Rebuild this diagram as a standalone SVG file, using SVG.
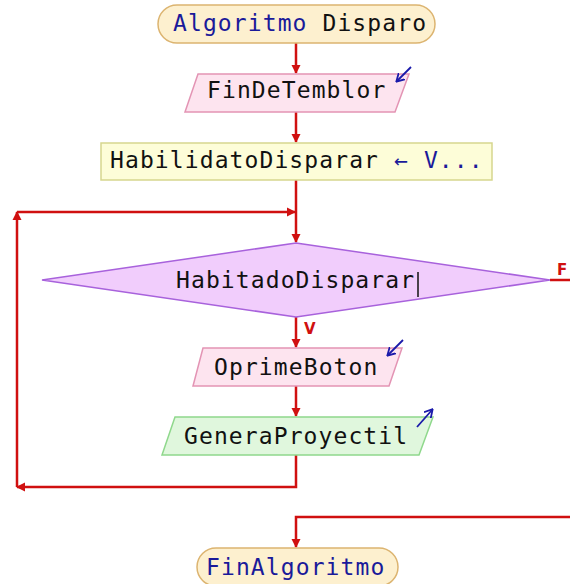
<svg xmlns="http://www.w3.org/2000/svg" width="570" height="584" viewBox="0 0 570 584">
<style>
.t{font-family:"DejaVu Sans Mono","Liberation Mono",monospace;font-size:23px;letter-spacing:1.1px;fill:#111}
.kw{fill:#1a1a9a}
.term{fill:#fdf0cf;stroke:#dcb470;stroke-width:1.5}
.in{fill:#fde4ef;stroke:#e394b4;stroke-width:1.5}
.out{fill:#e0f7dd;stroke:#8fd88c;stroke-width:1.5}
.asg{fill:#fdfdd8;stroke:#d6d68e;stroke-width:1.5}
.dec{fill:#f1cdfc;stroke:#a862dc;stroke-width:1.5}
.c{fill:none;stroke:#d01010;stroke-width:2.5}
.lbl{font-family:"DejaVu Sans","Liberation Sans",sans-serif;font-weight:bold;font-size:15px;fill:#d01010}
.io{stroke:#1a1aaa;stroke-width:1.8;fill:none}
</style>
<defs>
<marker id="ah" markerWidth="10" markerHeight="10" refX="8" refY="5" orient="auto" markerUnits="userSpaceOnUse">
<path d="M0,0.5 L9,5 L0,9.5 Z" fill="#d01010"/>
</marker>
<marker id="bh" markerWidth="9" markerHeight="10" refX="7" refY="5" orient="auto" markerUnits="userSpaceOnUse">
<path d="M0,0.5 L8,5 L0,9.5" fill="none" stroke="#1a1aaa" stroke-width="1.8"/>
</marker>
</defs>
<g id="connectors">
<line class="c" x1="296" y1="43" x2="296" y2="73" marker-end="url(#ah)"/>
<line class="c" x1="296" y1="112" x2="296" y2="142" marker-end="url(#ah)"/>
<line class="c" x1="296" y1="180" x2="296" y2="242" marker-end="url(#ah)"/>
<line class="c" x1="296" y1="317" x2="296" y2="347" marker-end="url(#ah)"/>
<line class="c" x1="296" y1="386" x2="296" y2="416" marker-end="url(#ah)"/>
<polyline class="c" points="296,455 296,487 17,487" marker-end="url(#ah)"/>
<line class="c" x1="17" y1="487" x2="17" y2="212" marker-end="url(#ah)"/>
<line class="c" x1="17" y1="212" x2="295" y2="212" marker-end="url(#ah)"/>
<line class="c" x1="550" y1="280" x2="570" y2="280"/>
<polyline class="c" points="570,517 296,517 296,547" marker-end="url(#ah)"/>
<text class="lbl" x="557" y="275">F</text>
<text class="lbl" x="304" y="334">V</text>
</g>
<g id="start">
<rect class="term" x="158" y="5" width="277" height="38" rx="19"/>
<text class="t" x="173" y="31"><tspan class="kw">Algoritmo</tspan> Disparo</text>
</g>
<g id="read1">
<polygon class="in" points="198,74 409,74 395,112 185,112"/>
<text class="t" x="207" y="98">FinDeTemblor</text>
<line class="io" x1="411" y1="67" x2="397" y2="81" marker-end="url(#bh)"/>
</g>
<g id="assign">
<rect class="asg" x="101" y="143" width="391" height="37"/>
<text class="t" x="110" y="168">HabilidatoDisparar <tspan class="kw">← V...</tspan></text>
</g>
<g id="decision">
<polygon class="dec" points="296,243 550,280 296,317 42,280"/>
<text class="t" x="176" y="288">HabitadoDisparar</text>
<line x1="418" y1="272" x2="418" y2="297" stroke="#111" stroke-width="1.5"/>
</g>
<g id="read2">
<polygon class="in" points="203,348 402,348 389,386 193,386"/>
<text class="t" x="214" y="375">OprimeBoton</text>
<line class="io" x1="403" y1="340" x2="388" y2="355" marker-end="url(#bh)"/>
</g>
<g id="write">
<polygon class="out" points="175,417 433,417 419,455 162,455"/>
<text class="t" x="184" y="444">GeneraProyectil</text>
<line class="io" x1="417" y1="427" x2="432" y2="410" marker-end="url(#bh)"/>
</g>
<g id="end">
<rect class="term" x="197" y="548" width="201" height="38" rx="19"/>
<text class="t kw" x="206" y="575">FinAlgoritmo</text>
</g>
</svg>
